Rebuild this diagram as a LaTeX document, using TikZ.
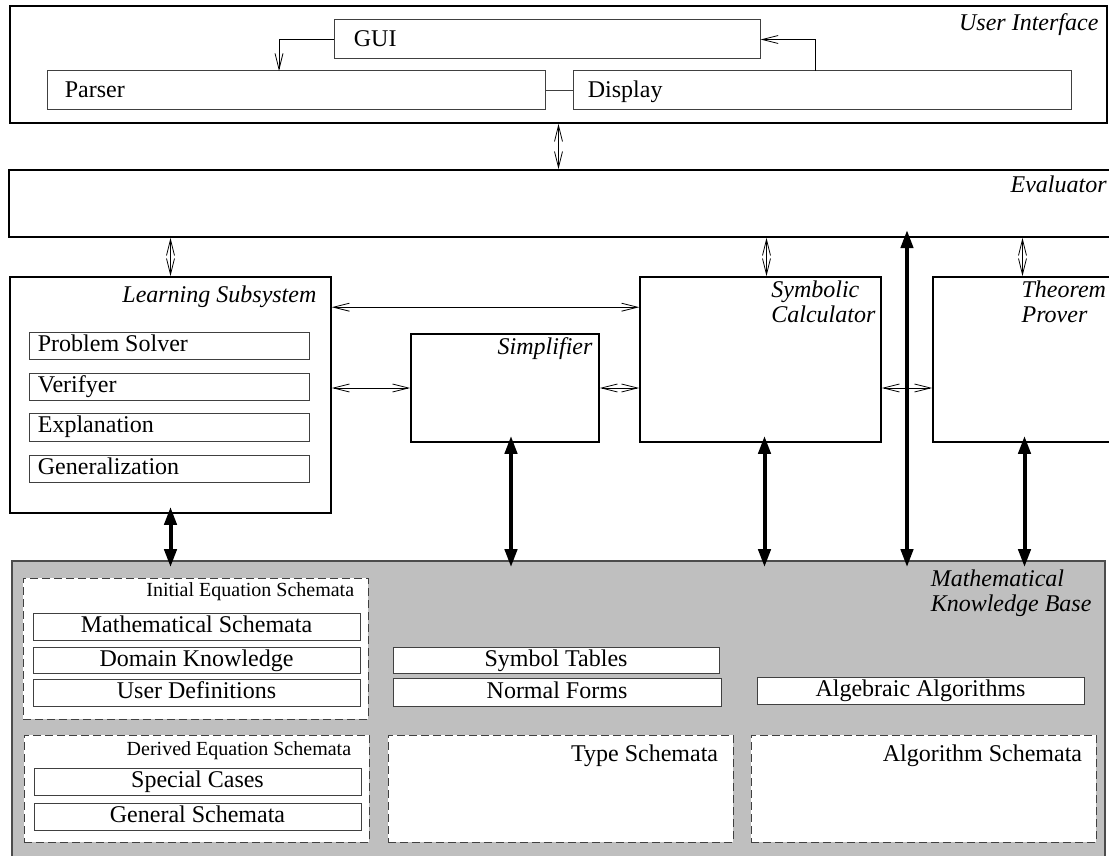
\documentclass[tikz,border=0pt]{standalone}
\usepackage{fontspec}
\setmainfont{Liberation Serif}
\usetikzlibrary{arrows.meta,fit}

\definecolor{kbgrigio}{RGB}{191,191,191}

\tikzset{
  box/.style={draw, line width=0.8pt, inner sep=0pt},
  subbox/.style={draw=black!75, line width=0.5pt, fill=white, inner sep=0pt},
  schema/.style={draw=black!75, dash pattern=on 4pt off 2pt, line width=0.5pt, fill=white, inner sep=0pt},
  titolo/.style={inner sep=0pt, font=\fontsize{12}{12.5}\selectfont\itshape, align=left},
  testo/.style={inner sep=0pt, font=\fontsize{12}{14}\selectfont},
  piccolo/.style={inner sep=0pt, font=\fontsize{10}{12}\selectfont},
  freccia/.style={-{Straight Barb[length=8pt,width=4pt]}, line width=0.4pt},
  doppia/.style={{Straight Barb[length=8pt,width=4pt]}-{Straight Barb[length=8pt,width=4pt]}, line width=0.4pt},
  grossa/.style={{Triangle[length=9pt,width=6pt]}-{Triangle[length=9pt,width=6pt]}, line width=2pt, shorten <=-3.5pt, shorten >=-3.5pt},
}

\begin{document}
\begin{tikzpicture}[x=0.5pt, y=-0.5pt]
        % Cornice
        \useasboundingbox (0,0) rectangle (1109,856);
        \clip (0,0) rectangle (1109,856);

        % User Interface
        \node[box, fit={(10,6) (1107,123)}] (ui) {};
        \node[titolo, anchor=north east] (uitit) at ([xshift=-4.5pt,yshift=-4pt]ui.north east) {User Interface};
        \node[subbox, fit={(334,20) (760,59)}] (gui) {};
        \node[testo, anchor=base west] (guitxt) at ([xshift=10pt,yshift=-3.5pt]gui.west) {GUI};
        \node[subbox, fit={(47,71) (545,110)}] (parser) {};
        \node[testo, anchor=base west] (parsertxt) at ([xshift=9pt,yshift=-3.5pt]parser.west) {Parser};
        \node[subbox, fit={(573,71) (1071,110)}] (display) {};
        \node[testo, anchor=base west] (displaytxt) at ([xshift=7.5pt,yshift=-3.5pt]display.west) {Display};
        \coordinate (parserin) at (279,71);
        \coordinate (displayout) at (815,71);
        \draw[freccia] (gui.west) -| (parserin);
        \draw[freccia] (displayout) |- (gui.east);
        \draw[black!75] (parser.east) -- (display.west);

        % Evaluator
        \node[box, fit={(9,170) (1120,237)}] (eval) {};
        \node[titolo, anchor=north east] (evaltit) at (1107,175) {Evaluator};

        % Learning Subsystem
        \node[box, fit={(10,277) (331,513)}] (learn) {};
        \node[titolo, anchor=north east] (learntit) at ([xshift=-7.5pt,yshift=-4.5pt]learn.north east) {Learning Subsystem};
        \node[subbox, fit={(29,332) (309,359)}] (solver) {};
        \node[testo, anchor=base west] (solvertxt) at ([xshift=4.5pt,yshift=-2.8pt]solver.west) {Problem Solver};
        \node[subbox, fit={(29,373) (309,400)}] (verif) {};
        \node[testo, anchor=base west] (veriftxt) at ([xshift=4.5pt,yshift=-2.8pt]verif.west) {Verifyer};
        \node[subbox, fit={(29,413) (309,441)}] (expl) {};
        \node[testo, anchor=base west] (expltxt) at ([xshift=4.5pt,yshift=-2.8pt]expl.west) {Explanation};
        \node[subbox, fit={(29,455) (309,482)}] (gener) {};
        \node[testo, anchor=base west] (genertxt) at ([xshift=4.5pt,yshift=-2.8pt]gener.west) {Generalization};

        % Simplifier, Symbolic Calculator, Theorem Prover
        \node[box, fit={(411,334) (599,442)}] (simp) {};
        \node[titolo, anchor=north east] (simptit) at ([xshift=-3.5pt,yshift=-2pt]simp.north east) {Simplifier};
        \node[box, fit={(640,277) (881,442)}] (sym) {};
        \node[titolo, anchor=north east] (symtit) at ([xshift=-3pt,yshift=-2pt]sym.north east) {Symbolic\\Calculator};
        \node[box, fit={(933,277) (1120,442)}] (thm) {};
        \node[titolo, anchor=north west] (thmtit) at ([xshift=44.5pt,yshift=-2pt]thm.north west) {Theorem\\Prover};

        % Mathematical Knowledge Base
        \node[box, draw=black!70, fill=kbgrigio, fit={(12,561) (1105,880)}] (kb) {};
        \node[titolo, anchor=north east] (kbtit) at ([xshift=-7pt,yshift=-4.5pt]kb.north east) {Mathematical\\Knowledge Base};

        \node[schema, fit={(23,578) (368,719)}] (initial) {};
        \node[piccolo, anchor=north east] (initialtit) at ([xshift=-7pt,yshift=-2.5pt]initial.north east) {Initial Equation Schemata};
        \node[subbox, fit={(33,613) (360,640)}] (mathsch) {};
        \node[testo, anchor=base] (mathschtxt) at ([yshift=-3pt]mathsch.center) {Mathematical Schemata};
        \node[subbox, fit={(33,647) (360,673)}] (domain) {};
        \node[testo, anchor=base] (domaintxt) at ([yshift=-3pt]domain.center) {Domain Knowledge};
        \node[subbox, fit={(33,679) (360,706)}] (userdef) {};
        \node[testo, anchor=base] (userdeftxt) at ([yshift=-3pt]userdef.center) {User Definitions};

        \node[subbox, fit={(393,647) (719,673)}] (symtab) {};
        \node[testo, anchor=base] (symtabtxt) at ([yshift=-3pt]symtab.center) {Symbol Tables};
        \node[subbox, fit={(393,678) (721,706)}] (normal) {};
        \node[testo, anchor=base] (normaltxt) at ([yshift=-3pt]normal.center) {Normal Forms};
        \node[subbox, fit={(757,677) (1084,704)}] (algalg) {};
        \node[testo, anchor=base] (algalgtxt) at ([yshift=-3pt]algalg.center) {Algebraic Algorithms};

        \node[schema, fit={(24,735) (369,842)}] (derived) {};
        \node[piccolo, anchor=north east] (derivedtit) at ([xshift=-9pt,yshift=-3.5pt]derived.north east) {Derived Equation Schemata};
        \node[subbox, fit={(34,768) (361,795)}] (special) {};
        \node[testo, anchor=base] (specialtxt) at ([yshift=-3pt]special.center) {Special Cases};
        \node[subbox, fit={(34,803) (361,830)}] (general) {};
        \node[testo, anchor=base] (generaltxt) at ([yshift=-3pt]general.center) {General Schemata};

        \node[schema, fit={(388,735) (733,842)}] (types) {};
        \node[testo, anchor=north east] (typestit) at ([xshift=-7.5pt,yshift=-5pt]types.north east) {Type Schemata};
        \node[schema, fit={(751,735) (1096,842)}] (algsch) {};
        \node[testo, anchor=north east] (algschtit) at ([xshift=-7pt,yshift=-5pt]algsch.north east) {Algorithm Schemata};

        % Frecce spesse verso la base di conoscenza
        \coordinate (evaltap) at (907,237);
        \draw[grossa] (learn.south) -- (learn.south |- kb.north);
        \draw[grossa] ([xshift=3pt]simp.south) -- ([xshift=3pt]simp.south |- kb.north);
        \draw[grossa] ([xshift=2pt]sym.south) -- ([xshift=2pt]sym.south |- kb.north);
        \draw[grossa] (evaltap) -- (evaltap |- kb.north);
        \draw[grossa] ([xshift=-1pt]thm.south) -- ([xshift=-1pt]thm.south |- kb.north);

        % Frecce sottili
        \draw[doppia] (ui.south) -- (ui.south |- eval.north);
        \draw[doppia] (learn.north) -- (learn.north |- eval.south);
        \draw[doppia] ([xshift=3pt]sym.north) -- ([xshift=3pt]sym.north |- eval.south);
        \draw[doppia] ([xshift=-2pt]thm.north) -- ([xshift=-2pt]thm.north |- eval.south);
        \draw[doppia] ([yshift=-15.5pt]learn.north east) -- ([yshift=-15.5pt]sym.north west);
        \draw[doppia] (simp.west -| learn.east) -- (simp.west);
        \draw[doppia] (simp.east) -- (simp.east -| sym.west);
        \draw[doppia] (simp.east -| sym.east) -- (simp.east -| thm.west);

    \end{tikzpicture}
\end{document}
